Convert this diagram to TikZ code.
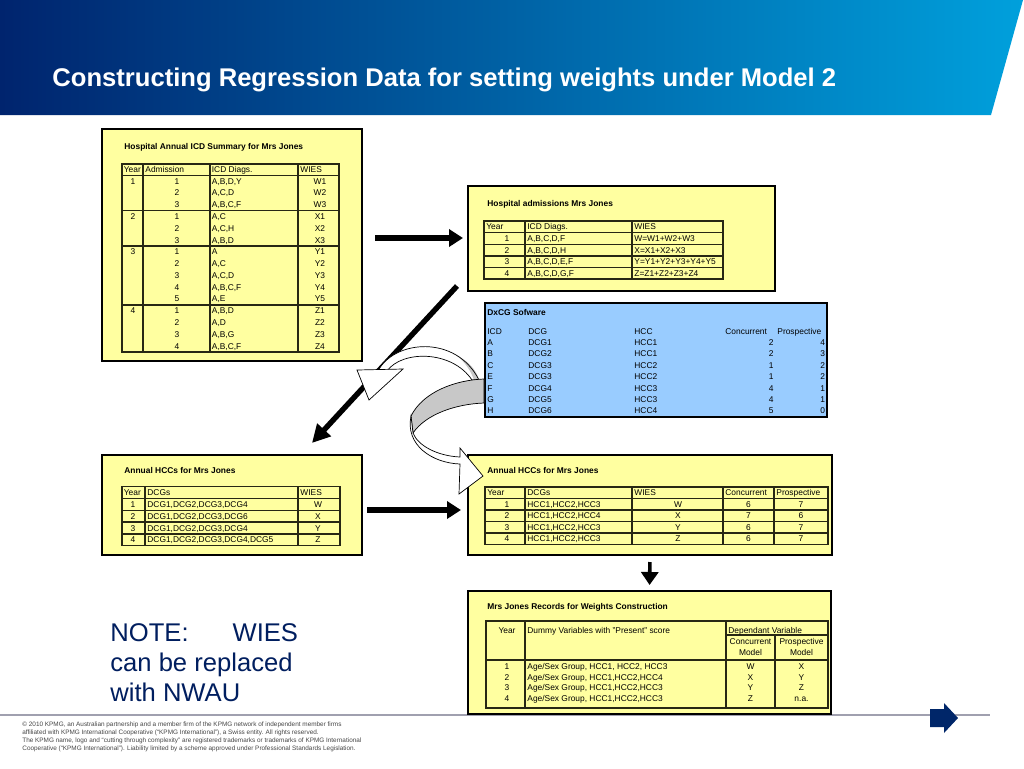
\documentclass[tikz,border=0pt]{standalone}
\usepackage{fontspec}
\setmainfont{Liberation Sans}
\usepackage{tikz}
\usetikzlibrary{arrows.meta, fit, positioning}
\definecolor{kpmgdark}{RGB}{0,36,110}
\definecolor{kpmglight}{RGB}{0,160,220}
\definecolor{kpmgnavy}{RGB}{0,38,105}
\definecolor{notenavy}{RGB}{0,30,95}
\definecolor{boxyellow}{RGB}{255,255,160}
\definecolor{boxblue}{RGB}{153,204,255}
\definecolor{griddark}{RGB}{40,40,20}
\definecolor{ribbongray}{RGB}{200,200,200}
\definecolor{footgray}{RGB}{70,70,70}
\definecolor{rulegray}{RGB}{160,160,175}
\tikzset{
  ybox/.style={rectangle, draw=black, fill=boxyellow, line width=1pt, inner sep=0pt},
  bbox/.style={ybox, fill=boxblue},
  tcell/.style={inner sep=0pt, text=black, font=\fontsize{4.2}{5}\selectfont, text height=3pt, text depth=0pt},
  celll/.style={tcell, anchor=west},
  cellr/.style={tcell, anchor=east},
  btitle/.style={celll, font=\fontsize{4.2}{5}\selectfont\bfseries},
  tline/.style={line width=0.7pt, color=griddark},
  bigarrow/.style={-{Triangle[length=7pt,width=8.5pt]}, line width=2.7pt, color=black},
  smallarrow/.style={-{Triangle[length=6.5pt,width=8.5pt]}, line width=1.8pt, color=black},
  ribbon/.style={draw=black, line width=0.35pt}
}
\begin{document}
\begin{tikzpicture}[x=0.5pt, y=-0.5pt]
  \useasboundingbox (0,0) rectangle (1024,768);
  \fill[white] (0,0) rectangle (1024,768);
  % header band
  \begin{scope}
    \shade[left color=kpmgdark, right color=kpmglight] (0,0) -- (1023,0) -- (991,115) -- (0,115) -- cycle;
  \end{scope}
  \node[anchor=base west, inner sep=0pt, text=white, font=\fontsize{12.8}{14}\selectfont\bfseries] (title) at (52,86) {Constructing Regression Data for setting weights under Model 2};
  \draw[rulegray, line width=0.6pt] (0,715) -- (990,715);

  % Hospital Annual ICD Summary
  \node[ybox, fit={(102,129) (362,361)}] (icdsum) {};
  \node[btitle] (icdsumtitle) at (124,146) {Hospital Annual ICD Summary for Mrs Jones};
  \draw[tline] (122,164) rectangle (339,352);
  \foreach \x in {143,210,298} \draw[tline] (\x,164) -- (\x,352);
  \foreach \y in {175.2,210.5,245.9,304.8} \draw[tline] (122,\y) -- (339,\y);
  \node[celll] (ih1) at (123.5,169.6) {Year};
  \node[celll] (ih2) at (145,169.6) {Admission};
  \node[celll] (ih3) at (211.5,169.6) {ICD Diags.};
  \node[celll] (ih4) at (300,169.6) {WIES};
  \foreach \y/\r in {1/1,2/4,3/7,4/12}
    \node[tcell] (iy\r) at (133,{175.2+(\r-0.5)*11.78}) {\y};
  \foreach \r/\n/\d/\w in {1/1/{A,B,D,Y}/W1, 2/2/{A,C,D}/W2, 3/3/{A,B,C,F}/W3,
      4/1/{A,C}/X1, 5/2/{A,C,H}/X2, 6/3/{A,B,D}/X3,
      7/1/A/Y1, 8/2/{A,C}/Y2, 9/3/{A,C,D}/Y3, 10/4/{A,B,C,F}/Y4, 11/5/{A,E}/Y5,
      12/1/{A,B,D}/Z1, 13/2/{A,D}/Z2, 14/3/{A,B,G}/Z3, 15/4/{A,B,C,F}/Z4} {
    \node[tcell] (ia\r) at (177,{175.2+(\r-0.5)*11.78}) {\n};
    \node[celll] (id\r) at (211.5,{175.2+(\r-0.5)*11.78}) {\d};
    \node[tcell] (iw\r) at (320,{175.2+(\r-0.5)*11.78}) {\w};
  }

  % Hospital admissions
  \node[ybox, fit={(468,186) (775,291)}] (admits) {};
  \node[btitle] (admitstitle) at (487,203) {Hospital admissions Mrs Jones};
  \draw[tline] (484,221) rectangle (723,279);
  \foreach \x in {525,632} \draw[tline] (\x,221) -- (\x,279);
  \foreach \y in {232.6,244.2,255.8,267.4} \draw[tline] (484,\y) -- (723,\y);
  \node[celll] (ah1) at (486,226.8) {Year};
  \node[celll] (ah2) at (527,226.8) {ICD Diags.};
  \node[celll] (ah3) at (634,226.8) {WIES};
  \foreach \r/\d/\w in {1/{A,B,C,D,F}/{W=W1+W2+W3}, 2/{A,B,C,D,H}/{X=X1+X2+X3},
      3/{A,B,C,D,E,F}/{Y=Y1+Y2+Y3+Y4+Y5}, 4/{A,B,C,D,G,F}/{Z=Z1+Z2+Z3+Z4}} {
    \node[tcell] (ay\r) at (507,{232.6+(\r-0.5)*11.6}) {\r};
    \node[celll] (ad\r) at (527,{232.6+(\r-0.5)*11.6}) {\d};
    \node[celll] (aw\r) at (634,{232.6+(\r-0.5)*11.6}) {\w};
  }

  % DxCG software
  \node[bbox, fit={(485,303) (827,417)}] (dxcg) {};
  \node[btitle] (dxcgtitle) at (487,312) {DxCG Sofware};
  \node[celll] (xh1) at (487,331) {ICD};
  \node[celll] (xh2) at (528,331) {DCG};
  \node[celll] (xh3) at (634,331) {HCC};
  \node[celll] (xh4) at (725,331) {Concurrent};
  \node[celll] (xh5) at (777,331) {Prospective};
  \foreach \c/\g/\h/\cc/\pp [count=\r] in {A/DCG1/HCC1/2/4, B/DCG2/HCC1/2/3,
      C/DCG3/HCC2/1/2, E/DCG3/HCC2/1/2, F/DCG4/HCC3/4/1, G/DCG5/HCC3/4/1, H/DCG6/HCC4/5/0} {
    \node[celll] (xc\r) at (487,{342.5+(\r-1)*11.4}) {\c};
    \node[celll] (xg\r) at (528,{342.5+(\r-1)*11.4}) {\g};
    \node[celll] (xh\r) at (634,{342.5+(\r-1)*11.4}) {\h};
    \node[cellr] (xn\r) at (774,{342.5+(\r-1)*11.4}) {\cc};
    \node[cellr] (xp\r) at (825.5,{342.5+(\r-1)*11.4}) {\pp};
  }

  % Annual HCCs (left)
  \node[ybox, fit={(102,455) (362,555)}] (hccleft) {};
  \node[btitle] (hcclefttitle) at (124,470) {Annual HCCs for Mrs Jones};
  \draw[tline] (122,486.7) rectangle (340,545.7);
  \foreach \x in {145,298} \draw[tline] (\x,486.7) -- (\x,545.7);
  \foreach \y in {498.5,510.3,522.1,533.9} \draw[tline] (122,\y) -- (340,\y);
  \node[celll] (lh1) at (123.5,492.6) {Year};
  \node[celll] (lh2) at (147,492.6) {DCGs};
  \node[celll] (lh3) at (300,492.6) {WIES};
  \foreach \r/\d/\w in {1/{DCG1,DCG2,DCG3,DCG4}/W, 2/{DCG1,DCG2,DCG3,DCG6}/X,
      3/{DCG1,DCG2,DCG3,DCG4}/Y, 4/{DCG1,DCG2,DCG3,DCG4,DCG5}/Z} {
    \node[tcell] (ly\r) at (133,{498.5+(\r-0.5)*11.8}) {\r};
    \node[celll] (ld\r) at (147,{498.5+(\r-0.5)*11.8}) {\d};
    \node[tcell] (lw\r) at (318,{498.5+(\r-0.5)*11.8}) {\w};
  }

  % Annual HCCs (right)
  \node[ybox, fit={(468,455) (832,555)}] (hccright) {};
  \node[btitle] (hccrighttitle) at (487,470) {Annual HCCs for Mrs Jones};
  \draw[tline] (485,487) rectangle (828,544.5);
  \foreach \x in {525,632,723,774} \draw[tline] (\x,487) -- (\x,544.5);
  \foreach \y in {498.5,510,521.5,533} \draw[tline] (485,\y) -- (828,\y);
  \node[celll] (rh1) at (487,492.75) {Year};
  \node[celll] (rh2) at (527,492.75) {DCGs};
  \node[celll] (rh3) at (634,492.75) {WIES};
  \node[celll] (rh4) at (725,492.75) {Concurrent};
  \node[celll] (rh5) at (776,492.75) {Prospective};
  \foreach \r/\d/\w/\cc/\pp in {1/{HCC1,HCC2,HCC3}/W/6/7, 2/{HCC1,HCC2,HCC4}/X/7/6,
      3/{HCC1,HCC2,HCC3}/Y/6/7, 4/{HCC1,HCC2,HCC3}/Z/6/7} {
    \node[tcell] (ry\r) at (507,{498.5+(\r-0.5)*11.5}) {\r};
    \node[celll] (rd\r) at (527,{498.5+(\r-0.5)*11.5}) {\d};
    \node[tcell] (rw\r) at (678,{498.5+(\r-0.5)*11.5}) {\w};
    \node[tcell] (rc\r) at (748.5,{498.5+(\r-0.5)*11.5}) {\cc};
    \node[tcell] (rp\r) at (801,{498.5+(\r-0.5)*11.5}) {\pp};
  }

  % Records for weights construction
  \node[ybox, fit={(468,591) (831,714)}] (records) {};
  \node[btitle] (recordstitle) at (487,606) {Mrs Jones Records for Weights Construction};
  \draw[tline] (486,621) rectangle (828,708);
  \foreach \x in {525,726} \draw[tline] (\x,621) -- (\x,708);
  \draw[tline] (775,635) -- (775,708);
  \draw[tline] (726,635) -- (828,635);
  \draw[tline] (486,660) -- (828,660);
  \node[tcell] (wh1) at (507,630.7) {Year};
  \node[celll] (wh2) at (527,630.7) {Dummy Variables with "Present" score};
  \node[celll] (wh3) at (728,630.7) {Dependant Variable};
  \node[tcell] (wh4) at (750.5,641.5) {Concurrent};
  \node[tcell] (wh5) at (750.5,652.5) {Model};
  \node[tcell] (wh6) at (801.5,641.5) {Prospective};
  \node[tcell] (wh7) at (801.5,652.5) {Model};
  \foreach \r/\d/\cc/\pp in {1/{Age/Sex Group, HCC1, HCC2, HCC3}/W/X,
      2/{Age/Sex Group, HCC1,HCC2,HCC4}/X/Y, 3/{Age/Sex Group, HCC1,HCC2,HCC3}/Y/Z,
      4/{Age/Sex Group, HCC1,HCC2,HCC3}/Z/n.a.} {
    \node[tcell] (wy\r) at (507,{666.3+(\r-1)*10.8}) {\r};
    \node[celll] (wd\r) at (527,{666.3+(\r-1)*10.8}) {\d};
    \node[tcell] (wc\r) at (750.5,{666.3+(\r-1)*10.8}) {\cc};
    \node[tcell] (wp\r) at (801.5,{666.3+(\r-1)*10.8}) {\pp};
  }

  % flow arrows
  \coordinate (sumout) at (375,238);
  \coordinate (admin) at (463,238);
  \draw[bigarrow] (sumout) -- (admin);
  \coordinate (admout) at (457,286);
  \coordinate (hccin) at (312,443);
  \draw[bigarrow, -{Triangle[length=9pt,width=9pt]}] (admout) -- (hccin);
  \coordinate (leftout) at (367,510);
  \coordinate (rightin) at (461,510);
  \draw[bigarrow] (leftout) -- (rightin);
  \draw[smallarrow, shorten <=3pt, shorten >=2.5pt] (hccright.south) -- (records.north);

  % curved ribbon arrows
  \fill[white] (378,371) .. controls (394,340) and (456,334) .. (479,380) -- (472,380) .. controls (452,350) and (402,350) .. (387,371) -- cycle;
  \fill[ribbongray] (456,355) .. controls (468,361) and (476,369) .. (479,380) -- (474,380) .. controls (471,371) and (465,362) .. (456,355) -- cycle;
  \draw[ribbon] (378,371) .. controls (394,340) and (456,334) .. (479,380) -- (472,380) .. controls (452,350) and (402,350) .. (387,371);
  \draw[ribbon, fill=white] (357,370) -- (403,369) -- (369,400) -- cycle;
  \draw[ribbon, fill=ribbongray] (484,379) .. controls (455,380) and (423,392) .. (411,416) -- (413,433) .. controls (426,414) and (456,404) .. (484,403) -- cycle;
  \draw[ribbon, fill=white] (411,416) .. controls (405,445) and (432,463) .. (460,464) -- (459,494) -- (483,476) -- (460,448) -- (460,457) .. controls (438,456) and (418,446) .. (413,433) -- cycle;

  % note
  \node[anchor=west, align=left, inner sep=0pt, text=notenavy, font=\fontsize{12.8}{15}\selectfont] (note) at (110,663) {NOTE:\hspace{22pt}WIES\\can be replaced\\with NWAU};

  % footer
  \fill[kpmgnavy] (930,709) -- (944,709) -- (944,703) -- (958,718) -- (944,733) -- (944,727) -- (930,727) -- cycle;
  \node[anchor=north west, align=left, inner sep=0pt, text=footgray, font=\fontsize{3.2}{4}\selectfont] (legal) at (22,721) {© 2010 KPMG, an Australian partnership and a member firm of the KPMG network of independent member firms\\affiliated with KPMG International Cooperative (“KPMG International”), a Swiss entity. All rights reserved.\\The KPMG name, logo and “cutting through complexity” are registered trademarks or trademarks of KPMG International\\Cooperative (“KPMG International”). Liability limited by a scheme approved under Professional Standards Legislation.};
\end{tikzpicture}
\end{document}
